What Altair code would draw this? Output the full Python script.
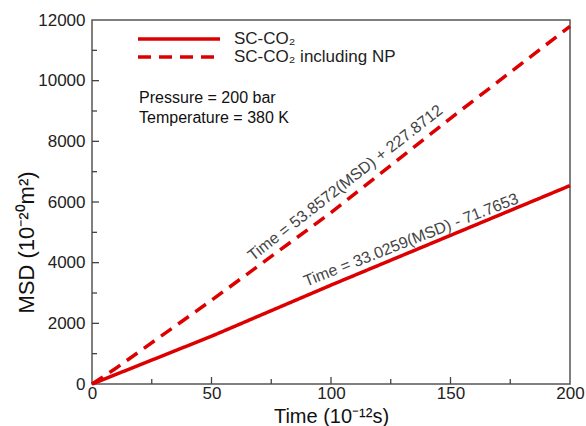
import altair as alt
import pandas as pd

# Mean squared displacement vs. time for the two systems
solid_name = "SC-CO₂"
dashed_name = "SC-CO₂ including NP"

solid_t = [0, 50, 100, 150, 200]
solid_msd = [0, 1575, 3260, 4900, 6540]

dashed_t = [0, 10, 50, 100, 150, 200]
dashed_msd = [0, 520, 2760, 5650, 8760, 11790]

# Axis ticks
x_major = [50, 100, 150]
x_minor = [25, 75, 125, 175]
y_major = [2000, 4000, 6000, 8000, 10000]
y_minor = [1000, 3000, 5000, 7000, 9000, 11000]

# Fit annotations
fit_text = ["Time = 53.8572(MSD) + 227.8712", "Time = 33.0259(MSD) - 71.7653"]
fit_t = [106, 133.5]
fit_msd = [6630, 4747]
fit_angle = [322, 338.5]

conditions = ["Pressure = 200 bar", "Temperature = 380 K"]
cond_t = [19.7, 19.7]
cond_msd = [9430, 8770]

RED = "#dd0000"
FONT = "Liberation Sans"
DASH = [13, 8]

solid_df = pd.DataFrame({"t": solid_t, "msd": solid_msd, "series": solid_name})
dashed_df = pd.DataFrame({"t": dashed_t, "msd": dashed_msd, "series": dashed_name})

xs = alt.Scale(domain=[0, 200], nice=False, zero=False)
ys = alt.Scale(domain=[0, 12000], nice=False, zero=False)

x_enc = alt.X(
    "t:Q",
    scale=xs,
    axis=alt.Axis(
        values=[0, 50, 100, 150, 200],
        format="d",
        title="Time (10⁻¹²s)",
        ticks=False,
        grid=False,
        domain=False,
        labelFontSize=17,
        labelPadding=1,
        labelFont=FONT,
        labelColor="#222222",
        labelFlush=False,
        titleFontSize=20,
        titleFont=FONT,
        titleFontWeight="normal",
        titleColor="#111111",
        titleBaseline="alphabetic",
        titleY=38,
    ),
)
y_enc = alt.Y(
    "msd:Q",
    scale=ys,
    axis=alt.Axis(
        values=[0, 2000, 4000, 6000, 8000, 10000, 12000],
        format="d",
        title="MSD (10⁻²⁰m²)",
        ticks=False,
        grid=False,
        domain=False,
        labelFontSize=17,
        labelPadding=7,
        labelFont=FONT,
        labelColor="#222222",
        labelFlush=False,
        titleFontSize=22,
        titleFont=FONT,
        titleFontWeight="normal",
        titleColor="#111111",
        titleBaseline="alphabetic",
        titleX=-59,
        titleY=222,
    ),
)


def legend_for(y_offset, dash):
    return alt.Legend(
        title=None,
        orient="none",
        legendX=44,
        legendY=y_offset,
        padding=0,
        symbolType="stroke",
        symbolSize=6724,
        symbolStrokeColor=RED,
        symbolStrokeWidth=3.5,
        symbolDash=dash,
        labelFontSize=17,
        labelFont=FONT,
        labelColor="#222222",
        labelOffset=12,
        labelLimit=400,
    )


solid_layer = (
    alt.Chart(solid_df)
    .mark_line(color=RED, strokeWidth=3.5)
    .encode(
        x=x_enc,
        y=y_enc,
        strokeDash=alt.StrokeDash(
            "series:N",
            scale=alt.Scale(domain=[solid_name], range=[[1, 0]]),
            legend=legend_for(-24, [1, 0]),
        ),
    )
)

dashed_layer = (
    alt.Chart(dashed_df)
    .mark_line(color=RED, strokeWidth=3.5)
    .encode(
        x=alt.X("t:Q", scale=xs),
        y=alt.Y("msd:Q", scale=ys),
        strokeDash=alt.StrokeDash(
            "series:N",
            scale=alt.Scale(domain=[dashed_name], range=[DASH]),
            legend=legend_for(-6, DASH),
        ),
    )
)


def tick_rules(values, axis, length):
    df = pd.DataFrame({"v": values})
    if axis == "x":
        return (
            alt.Chart(df)
            .mark_rule(color="#444444", strokeWidth=1.3)
            .encode(x=alt.X("v:Q", scale=xs), y=alt.value(364), y2=alt.value(364 - length))
        )
    return (
        alt.Chart(df)
        .mark_rule(color="#444444", strokeWidth=1.3)
        .encode(y=alt.Y("v:Q", scale=ys), x=alt.value(0), x2=alt.value(length))
    )


ticks = [
    tick_rules(x_major, "x", 7),
    tick_rules(x_minor, "x", 5),
    tick_rules(y_major, "y", 7),
    tick_rules(y_minor, "y", 5),
]

fits = pd.DataFrame({"label": fit_text, "t": fit_t, "msd": fit_msd, "angle": fit_angle})
fit_layer = (
    alt.Chart(fits)
    .mark_text(font=FONT, fontSize=16, color="#444444", align="center", baseline="middle")
    .encode(
        x=alt.X("t:Q", scale=xs),
        y=alt.Y("msd:Q", scale=ys),
        text="label:N",
        angle=alt.Angle("angle:Q", scale=None),
    )
)

cond = pd.DataFrame({"label": conditions, "t": cond_t, "msd": cond_msd})
cond_layer = (
    alt.Chart(cond)
    .mark_text(font=FONT, fontSize=16, color="#111111", align="left", baseline="middle")
    .encode(x=alt.X("t:Q", scale=xs), y=alt.Y("msd:Q", scale=ys), text="label:N")
)

chart = (
    alt.layer(solid_layer, dashed_layer, *ticks, fit_layer, cond_layer)
    .resolve_scale(strokeDash="independent")
    .resolve_legend(strokeDash="independent")
    .properties(
        width=478,
        height=364,
        autosize=alt.AutoSizeParams(type="none"),
        padding={"left": 92, "top": 20, "right": 16, "bottom": 42},
        background="white",
    )
    .configure_view(stroke="#555555", strokeWidth=1.5)
)

chart.save("out.html", embed_options={"renderer": "svg", "actions": False})
